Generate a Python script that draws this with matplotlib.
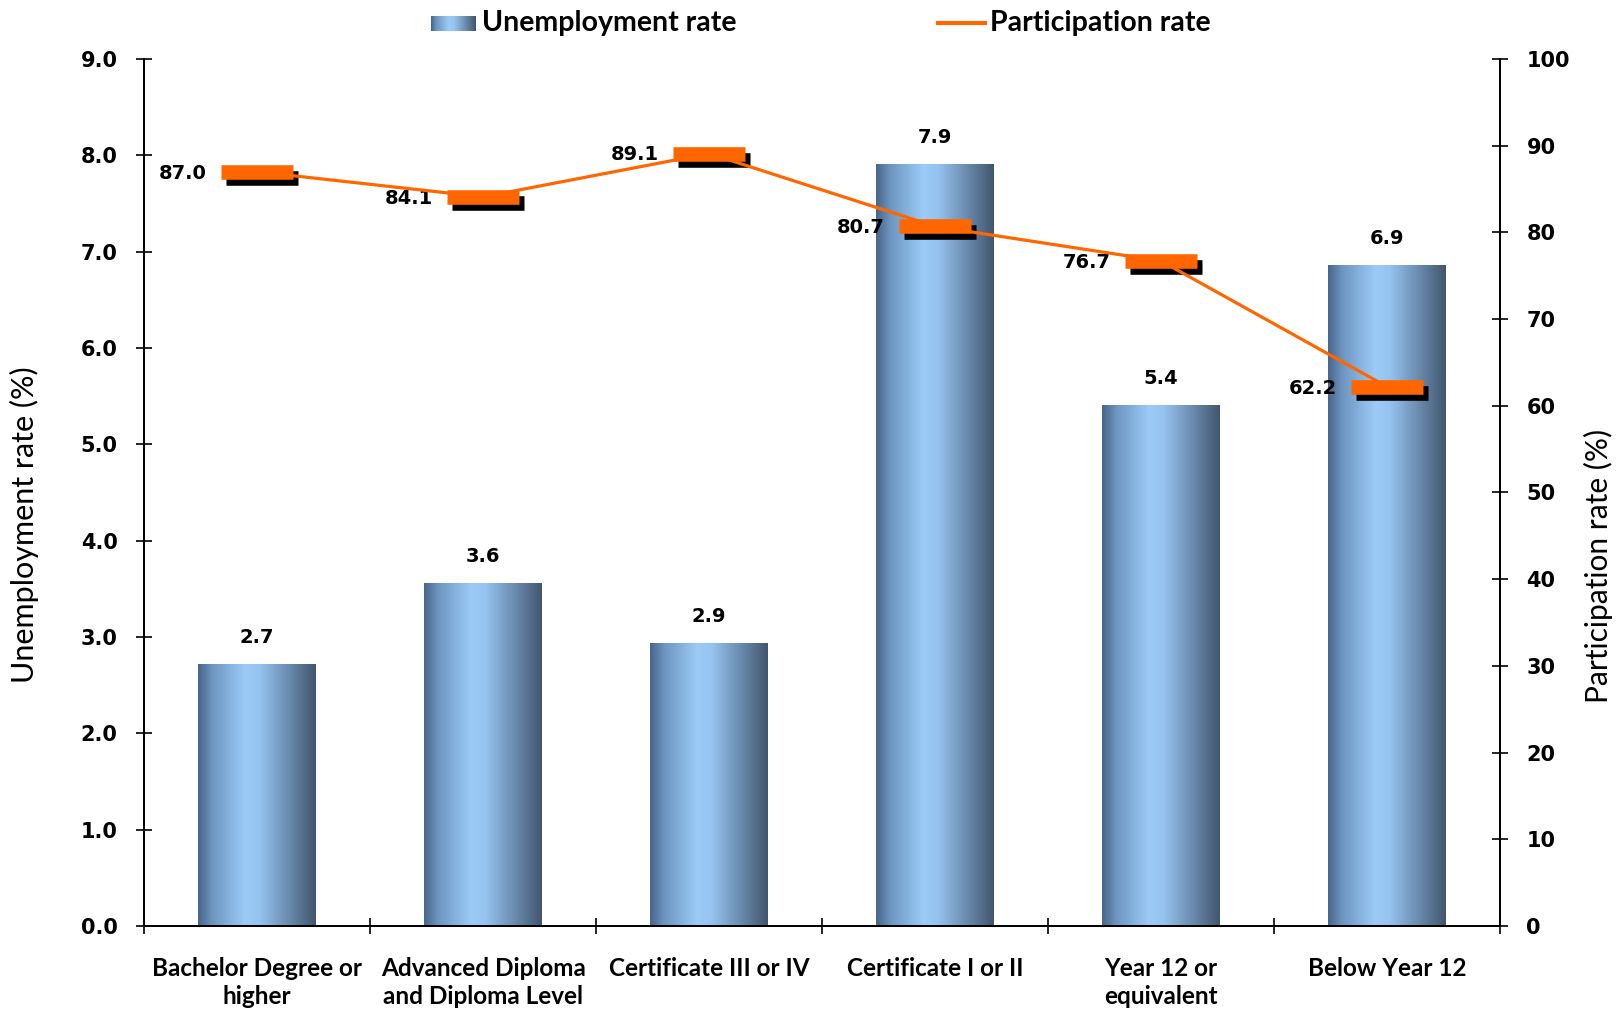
import numpy as np
import matplotlib
matplotlib.use("Agg")
from matplotlib import pyplot as plt
from matplotlib import transforms
from matplotlib.colors import LinearSegmentedColormap
from matplotlib.lines import Line2D

categories = ["Bachelor Degree or\nhigher", "Advanced Diploma\nand Diploma Level",
              "Certificate III or IV", "Certificate I or II",
              "Year 12 or\nequivalent", "Below Year 12"]
unemployment = [2.72, 3.56, 2.94, 7.91, 5.41, 6.86]
participation = [87.0, 84.1, 89.1, 80.7, 76.7, 62.2]

orange = "#ff6600"
bar_cmap = LinearSegmentedColormap.from_list(
    "bar", [(0.0, "#48658a"), (0.12, "#6d95c0"), (0.4, "#9ccbf8"),
            (0.52, "#96c4f0"), (0.77, "#6a8bae"), (1.0, "#42566d")])
grad = np.linspace(0, 1, 256).reshape(1, -1)

num_font = "DejaVu Sans"
lab_font = "Lato"

fig = plt.figure(figsize=(16.17, 10.09), dpi=100)
ax = fig.add_axes([0.0891, 0.0823, 0.9277 - 0.0891, 0.9415 - 0.0823])
ax2 = ax.twinx()

x = np.arange(len(categories))
width = 0.52
bars = ax.bar(x, unemployment, width=width, color="none", edgecolor="none", zorder=2)
for b in bars:
    x0, y0 = b.get_x(), b.get_y()
    w, h = b.get_width(), b.get_height()
    im = ax.imshow(grad, cmap=bar_cmap, aspect="auto", extent=[x0, x0 + w, y0, y0 + h],
                   zorder=2, interpolation="bicubic")
    im.set_clip_path(b)
for xi, v in zip(x, unemployment):
    ax.annotate("{:.1f}".format(v), (xi, v), xytext=(0, 12), textcoords="offset points",
                ha="center", va="bottom", fontsize=14, fontweight="bold", family=num_font)

ax.set_xlim(-0.5, len(categories) - 0.5)
ax.set_ylim(0, 9)
ax.set_yticks(np.arange(0, 9.01, 1.0))
ax.set_yticklabels(["{:.1f}".format(t) for t in np.arange(0, 9.01, 1.0)])
ax2.set_ylim(0, 100)
ax2.set_yticks(np.arange(0, 101, 10))

# shadow under the participation markers
shadow = transforms.offset_copy(ax2.transData, fig=fig, x=5, y=-6, units="dots")
ax2.plot(x, participation, linestyle="none", marker="_", markersize=52,
         markeredgewidth=10.5, color="black", transform=shadow, zorder=3)
ax2.plot(x, participation, color=orange, linewidth=2.3, marker="_", markersize=52,
         markeredgewidth=10.5, markeredgecolor=orange, zorder=4)
for xi, v in zip(x, participation):
    ax2.annotate("{:.1f}".format(v), (xi, v), xytext=(-36, -1), textcoords="offset points",
                 ha="right", va="center", fontsize=14, fontweight="bold", family=num_font)

ax.set_xticks(x)
ax.set_xticklabels(categories, fontsize=17.5, fontweight="bold", family=lab_font,
                   linespacing=1.3)
ax.set_xticks(np.arange(-0.5, len(categories), 1.0), minor=True)
ax.tick_params(axis="x", which="major", length=0, pad=22)
ax.tick_params(axis="x", which="minor", direction="inout", length=12, width=1.2)
ax.tick_params(axis="y", direction="inout", length=12, width=1.2, pad=13)
ax2.tick_params(axis="y", direction="inout", length=12, width=1.2, pad=13)
for t in ax.get_yticklabels() + ax2.get_yticklabels():
    t.set_fontsize(15)
    t.set_fontweight("bold")
    t.set_family(num_font)

for a in (ax, ax2):
    a.spines["top"].set_visible(False)
    for s in ("left", "right", "bottom"):
        a.spines[s].set_linewidth(1.3)

ax.set_ylabel("Unemployment rate (%)", fontsize=22, family=lab_font)
ax.yaxis.label.set(va="center", ha="center", rotation_mode="default")
ax.yaxis.set_label_coords(-0.088, 0.4625)
ax2.set_ylabel("Participation rate (%)", fontsize=21.5, family=lab_font, rotation=90)
ax2.yaxis.label.set(va="center", ha="center", rotation_mode="default")
ax2.yaxis.set_label_coords(1.0723, 0.415)

# legend at the top
lax = fig.add_axes([431 / 1617, 1 - 31 / 1009, 45 / 1617, 15 / 1009])
lax.imshow(grad, cmap=bar_cmap, aspect="auto")
lax.set_axis_off()
fig.text(482 / 1617, 1 - 23 / 1009, "Unemployment rate", fontsize=20.5, fontweight="bold",
         family=lab_font, va="center", ha="left")
fig.add_artist(Line2D([938 / 1617, 985 / 1617], [1 - 23 / 1009] * 2, color=orange,
                      linewidth=3, transform=fig.transFigure))
fig.text(990 / 1617, 1 - 23 / 1009, "Participation rate", fontsize=20.5, fontweight="bold",
         family=lab_font, va="center", ha="left")

fig.savefig("out.png", dpi=100)
